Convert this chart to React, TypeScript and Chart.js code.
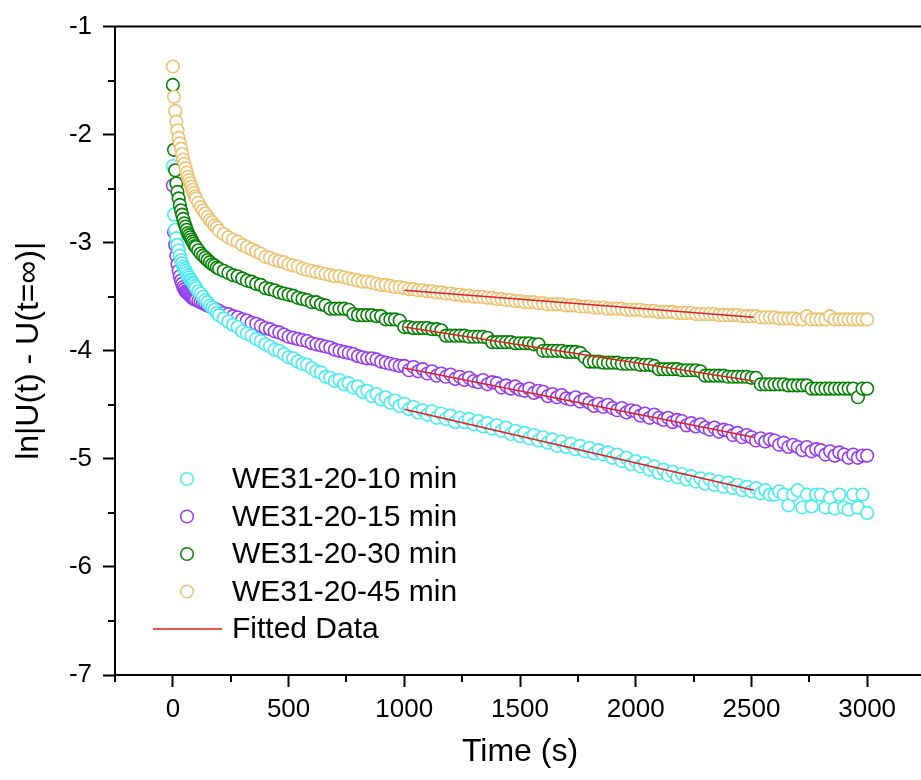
import React, { useEffect, useRef } from "react";
import { Chart, registerables } from "chart.js";

Chart.register(...registerables);

const FONT = "'Liberation Sans', Arial, sans-serif";

// time points (s)
const TIME = [
  0, 5, 10, 15, 20, 25, 30, 35, 40, 45,
  50, 55, 60, 65, 70, 75, 80, 85, 90, 95,
  100, 110, 120, 130, 140, 150, 160, 170, 180, 190,
  200, 220, 240, 260, 280, 300, 320, 340, 360, 380,
  400, 420, 440, 460, 480, 500, 520, 540, 560, 580,
  600, 620, 640, 660, 680, 700, 720, 740, 760, 780,
  800, 820, 840, 860, 880, 900, 920, 940, 960, 980,
  1000, 1020, 1040, 1060, 1080, 1100, 1120, 1140, 1160, 1180,
  1200, 1220, 1240, 1260, 1280, 1300, 1320, 1340, 1360, 1380,
  1400, 1420, 1440, 1460, 1480, 1500, 1520, 1540, 1560, 1580,
  1600, 1620, 1640, 1660, 1680, 1700, 1720, 1740, 1760, 1780,
  1800, 1820, 1840, 1860, 1880, 1900, 1920, 1940, 1960, 1980,
  2000, 2020, 2040, 2060, 2080, 2100, 2120, 2140, 2160, 2180,
  2200, 2220, 2240, 2260, 2280, 2300, 2320, 2340, 2360, 2380,
  2400, 2420, 2440, 2460, 2480, 2500, 2520, 2540, 2560, 2580,
  2600, 2620, 2640, 2660, 2680, 2700, 2720, 2740, 2760, 2780,
  2800, 2820, 2840, 2860, 2880, 2900, 2920, 2940, 2960, 2980,
  3000,
];

const WE_10 = [
  -2.29, -2.74, -2.88, -2.96, -3.02, -3.07, -3.12, -3.16, -3.19, -3.22,
  -3.24, -3.26, -3.28, -3.30, -3.32, -3.34, -3.35, -3.37, -3.38, -3.40,
  -3.42, -3.45, -3.47, -3.50, -3.53, -3.55, -3.58, -3.60, -3.62, -3.65,
  -3.67, -3.70, -3.73, -3.76, -3.78, -3.82, -3.84, -3.86, -3.89, -3.91,
  -3.94, -3.96, -3.99, -4.00, -4.03, -4.06, -4.07, -4.10, -4.12, -4.13,
  -4.16, -4.19, -4.20, -4.24, -4.25, -4.28, -4.27, -4.31, -4.30, -4.34,
  -4.33, -4.38, -4.37, -4.42, -4.40, -4.45, -4.43, -4.48, -4.46, -4.51,
  -4.49, -4.54, -4.52, -4.57, -4.55, -4.59, -4.56, -4.62, -4.58, -4.63,
  -4.60, -4.66, -4.62, -4.66, -4.63, -4.68, -4.65, -4.70, -4.67, -4.72,
  -4.69, -4.74, -4.71, -4.77, -4.74, -4.79, -4.76, -4.81, -4.78, -4.83,
  -4.80, -4.85, -4.82, -4.88, -4.84, -4.89, -4.86, -4.91, -4.88, -4.93,
  -4.90, -4.95, -4.92, -4.96, -4.94, -4.99, -4.96, -5.02, -4.99, -5.05,
  -5.02, -5.07, -5.04, -5.10, -5.07, -5.13, -5.10, -5.15, -5.12, -5.17,
  -5.14, -5.19, -5.16, -5.21, -5.18, -5.23, -5.19, -5.24, -5.21, -5.26,
  -5.22, -5.27, -5.24, -5.29, -5.26, -5.30, -5.27, -5.32, -5.29, -5.33,
  -5.33, -5.30, -5.33, -5.43, -5.33, -5.29, -5.45, -5.33, -5.44, -5.33,
  -5.33, -5.45, -5.36, -5.46, -5.33, -5.45, -5.47, -5.33, -5.45, -5.33,
  -5.50,
];

const WE_15 = [
  -2.47, -2.90, -3.02, -3.12, -3.20, -3.26, -3.31, -3.35, -3.38, -3.41,
  -3.43, -3.45, -3.46, -3.47, -3.48, -3.49, -3.50, -3.51, -3.52, -3.52,
  -3.53, -3.54, -3.55, -3.56, -3.57, -3.58, -3.59, -3.60, -3.61, -3.62,
  -3.63, -3.65, -3.66, -3.68, -3.69, -3.71, -3.72, -3.74, -3.75, -3.77,
  -3.79, -3.80, -3.82, -3.83, -3.85, -3.87, -3.88, -3.89, -3.90, -3.91,
  -3.93, -3.94, -3.95, -3.96, -3.97, -3.99, -4.00, -4.01, -4.02, -4.03,
  -4.05, -4.06, -4.07, -4.07, -4.08, -4.10, -4.11, -4.12, -4.13, -4.14,
  -4.14, -4.18, -4.15, -4.19, -4.17, -4.21, -4.19, -4.23, -4.21, -4.24,
  -4.22, -4.26, -4.24, -4.27, -4.25, -4.28, -4.29, -4.27, -4.31, -4.29,
  -4.30, -4.34, -4.32, -4.35, -4.33, -4.36, -4.37, -4.35, -4.39, -4.37,
  -4.38, -4.42, -4.40, -4.43, -4.41, -4.44, -4.45, -4.43, -4.47, -4.45,
  -4.48, -4.51, -4.49, -4.52, -4.50, -4.53, -4.55, -4.53, -4.57, -4.55,
  -4.56, -4.60, -4.58, -4.62, -4.59, -4.62, -4.64, -4.62, -4.66, -4.64,
  -4.65, -4.69, -4.67, -4.70, -4.68, -4.71, -4.73, -4.71, -4.75, -4.73,
  -4.74, -4.78, -4.76, -4.80, -4.78, -4.80, -4.83, -4.81, -4.84, -4.82,
  -4.83, -4.87, -4.85, -4.89, -4.87, -4.89, -4.92, -4.89, -4.93, -4.91,
  -4.92, -4.96, -4.93, -4.97, -4.94, -4.96, -4.99, -4.96, -4.99, -4.97,
  -4.97,
];

const WE_30 = [
  -1.54, -2.14, -2.33, -2.45, -2.53, -2.59, -2.65, -2.70, -2.74, -2.78,
  -2.82, -2.85, -2.88, -2.91, -2.93, -2.95, -2.97, -2.99, -3.01, -3.03,
  -3.04, -3.07, -3.10, -3.12, -3.14, -3.16, -3.18, -3.20, -3.21, -3.23,
  -3.24, -3.26, -3.28, -3.30, -3.31, -3.33, -3.35, -3.36, -3.38, -3.39,
  -3.42, -3.43, -3.44, -3.46, -3.47, -3.48, -3.49, -3.51, -3.52, -3.53,
  -3.55, -3.55, -3.57, -3.58, -3.61, -3.61, -3.61, -3.61, -3.62, -3.66,
  -3.67, -3.67, -3.67, -3.67, -3.68, -3.68, -3.71, -3.71, -3.71, -3.72,
  -3.78, -3.78, -3.79, -3.79, -3.79, -3.79, -3.80, -3.80, -3.81, -3.86,
  -3.86, -3.86, -3.86, -3.86, -3.87, -3.87, -3.87, -3.87, -3.88, -3.92,
  -3.92, -3.92, -3.92, -3.92, -3.93, -3.93, -3.93, -3.93, -3.94, -3.94,
  -4.00, -4.00, -4.00, -4.00, -4.00, -4.01, -4.01, -4.01, -4.02, -4.06,
  -4.10, -4.10, -4.10, -4.11, -4.11, -4.11, -4.11, -4.12, -4.12, -4.12,
  -4.12, -4.13, -4.13, -4.13, -4.14, -4.17, -4.17, -4.17, -4.17, -4.17,
  -4.18, -4.18, -4.18, -4.18, -4.19, -4.23, -4.23, -4.23, -4.23, -4.23,
  -4.24, -4.24, -4.24, -4.24, -4.24, -4.25, -4.25, -4.31, -4.31, -4.31,
  -4.31, -4.31, -4.31, -4.32, -4.32, -4.32, -4.32, -4.32, -4.35, -4.35,
  -4.35, -4.35, -4.35, -4.35, -4.35, -4.35, -4.35, -4.35, -4.43, -4.35,
  -4.35,
];

const WE_45 = [
  -1.37, -1.65, -1.78, -1.88, -1.96, -2.03, -2.08, -2.13, -2.18, -2.23,
  -2.27, -2.31, -2.35, -2.39, -2.42, -2.45, -2.48, -2.51, -2.54, -2.57,
  -2.59, -2.63, -2.67, -2.70, -2.73, -2.76, -2.79, -2.81, -2.84, -2.86,
  -2.89, -2.92, -2.95, -2.97, -2.99, -3.02, -3.04, -3.06, -3.08, -3.10,
  -3.13, -3.14, -3.16, -3.17, -3.18, -3.20, -3.21, -3.22, -3.24, -3.25,
  -3.26, -3.27, -3.28, -3.29, -3.30, -3.31, -3.31, -3.32, -3.33, -3.34,
  -3.35, -3.36, -3.36, -3.37, -3.38, -3.39, -3.39, -3.40, -3.41, -3.41,
  -3.42, -3.43, -3.43, -3.44, -3.44, -3.45, -3.45, -3.46, -3.46, -3.47,
  -3.47, -3.48, -3.48, -3.49, -3.49, -3.50, -3.50, -3.50, -3.51, -3.51,
  -3.52, -3.52, -3.53, -3.53, -3.54, -3.54, -3.55, -3.55, -3.55, -3.56,
  -3.56, -3.57, -3.57, -3.57, -3.57, -3.58, -3.58, -3.58, -3.59, -3.59,
  -3.59, -3.60, -3.60, -3.60, -3.61, -3.61, -3.61, -3.61, -3.62, -3.62,
  -3.62, -3.62, -3.63, -3.63, -3.63, -3.64, -3.64, -3.64, -3.64, -3.65,
  -3.65, -3.65, -3.65, -3.66, -3.66, -3.66, -3.66, -3.66, -3.67, -3.67,
  -3.67, -3.67, -3.67, -3.68, -3.68, -3.68, -3.68, -3.69, -3.69, -3.69,
  -3.69, -3.70, -3.70, -3.70, -3.70, -3.71, -3.71, -3.68, -3.71, -3.71,
  -3.71, -3.71, -3.68, -3.71, -3.71, -3.71, -3.71, -3.71, -3.71, -3.71,
  -3.71,
];

// linear fits
const FIT_TIME = [1000, 2510];
const FIT_10 = [-4.54, -5.29];
const FIT_15 = [-4.16, -4.80];
const FIT_30 = [-3.78, -4.28];
const FIT_45 = [-3.44, -3.69];

const SERIES_LABELS = ["WE31-20-10 min", "WE31-20-15 min", "WE31-20-30 min", "WE31-20-45 min"];
const FIT_LABEL = "Fitted Data";
const COLORS = ["rgb(70,236,240)", "rgb(150,60,240)", "rgb(5,128,5)", "rgb(236,194,112)"];
const FIT_COLOR = "rgb(225,30,30)";

const X_TICKS = [0, 500, 1000, 1500, 2000, 2500, 3000];
const X_MINOR = [-250, 250, 750, 1250, 1750, 2250, 2750, 3250];
const Y_TICKS = [-7, -6, -5, -4, -3, -2, -1];
const Y_MINOR = [-6.5, -5.5, -4.5, -3.5, -2.5, -1.5];

const decorPlugin = {
  id: "decor",
  afterDraw(chart: any) {
    const { ctx, chartArea, scales } = chart;
    const xs = scales.x;
    const ys = scales.y;
    ctx.save();
    ctx.strokeStyle = "#000";
    ctx.lineWidth = 2;
    ctx.beginPath();
    ctx.moveTo(chartArea.left - 1, chartArea.top);
    ctx.lineTo(chartArea.right, chartArea.top);
    ctx.lineTo(chartArea.right, chartArea.bottom);
    ctx.stroke();
    ctx.beginPath();
    X_MINOR.forEach((v) => {
      const px = Math.round(xs.getPixelForValue(v));
      ctx.moveTo(px, chartArea.bottom);
      ctx.lineTo(px, chartArea.bottom + 7);
    });
    Y_MINOR.forEach((v) => {
      const py = Math.round(ys.getPixelForValue(v));
      ctx.moveTo(chartArea.left, py);
      ctx.lineTo(chartArea.left - 7, py);
    });
    ctx.stroke();

    // legend
    const lx = 187;
    const tx = 232;
    const y0 = 479;
    const dy = 37.5;
    ctx.font = `30px ${FONT}`;
    ctx.textBaseline = "middle";
    ctx.textAlign = "left";
    SERIES_LABELS.forEach((lab, i) => {
      const y = y0 + i * dy;
      ctx.beginPath();
      ctx.arc(lx, y, 6.3, 0, Math.PI * 2);
      ctx.fillStyle = "#fff";
      ctx.fill();
      ctx.lineWidth = 1.5;
      ctx.strokeStyle = COLORS[i];
      ctx.stroke();
      ctx.fillStyle = "#000";
      ctx.fillText(lab, tx, y + 1);
    });
    const yf = y0 + 4 * dy;
    ctx.beginPath();
    ctx.moveTo(153, yf);
    ctx.lineTo(222, yf);
    ctx.strokeStyle = FIT_COLOR;
    ctx.lineWidth = 1.5;
    ctx.stroke();
    ctx.fillStyle = "#000";
    ctx.fillText(FIT_LABEL, tx, yf + 1);
    ctx.restore();
  },
};

export default function App() {
  const ref = useRef<HTMLCanvasElement>(null);

  useEffect(() => {
    const canvas = ref.current;
    if (!canvas) return;
    const pts = (ys: number[]) => TIME.map((t, i) => ({ x: t, y: ys[i] }));
    const fit = (ys: number[]) => FIT_TIME.map((t, i) => ({ x: t, y: ys[i] }));
    const seriesVals = [WE_10, WE_15, WE_30, WE_45];
    const orders = [3, 4, 2, 1];
    const scatterSets = seriesVals.map((vals, i) => ({
      type: "scatter" as const,
      label: SERIES_LABELS[i],
      data: pts(vals),
      showLine: false,
      pointRadius: 6.3,
      pointBorderWidth: 1.6,
      pointBorderColor: COLORS[i],
      pointBackgroundColor: "#ffffff",
      borderColor: COLORS[i],
      backgroundColor: "#ffffff",
      order: orders[i],
    }));
    const fitSets = [FIT_10, FIT_15, FIT_30, FIT_45].map((vals) => ({
      type: "line" as const,
      label: FIT_LABEL,
      data: fit(vals),
      showLine: true,
      borderColor: FIT_COLOR,
      borderWidth: 1.5,
      pointRadius: 0,
      fill: false,
      order: 0,
    }));

    const tickFont = { family: FONT, size: 26 };
    const chart = new Chart(canvas, {
      type: "scatter",
      data: { datasets: [...scatterSets, ...fitSets] as any },
      options: {
        responsive: false,
        animation: false,
        devicePixelRatio: 1,
        layout: { padding: { top: 23, right: 10, left: 0, bottom: 0 } },
        plugins: { legend: { display: false }, tooltip: { enabled: false } },
        scales: {
          x: {
            type: "linear",
            min: -250,
            max: 3250,
            afterFit: (s: any) => {
              s.height = 105;
            },
            afterBuildTicks: (s: any) => {
              s.ticks = X_TICKS.map((v) => ({ value: v }));
            },
            ticks: {
              font: tickFont,
              color: "#000",
              padding: 7,
              maxRotation: 0,
              autoSkip: false,
              callback: (v: any) => String(v),
            },
            grid: {
              display: true,
              drawOnChartArea: false,
              drawTicks: true,
              tickLength: 12,
              tickWidth: 2,
              tickColor: "#000",
            },
            border: { display: true, color: "#000", width: 2 },
            title: {
              display: true,
              text: "Time (s)",
              color: "#000",
              font: { family: FONT, size: 32 },
              padding: { top: 0, bottom: 9 },
            },
          },
          y: {
            type: "linear",
            min: -7,
            max: -1,
            afterFit: (s: any) => {
              s.width = 115;
            },
            afterBuildTicks: (s: any) => {
              s.ticks = Y_TICKS.map((v) => ({ value: v }));
            },
            ticks: {
              font: tickFont,
              color: "#000",
              padding: 11,
              autoSkip: false,
              callback: (v: any) => String(v),
            },
            grid: {
              display: true,
              drawOnChartArea: false,
              drawTicks: true,
              tickLength: 12,
              tickWidth: 2,
              tickColor: "#000",
            },
            border: { display: true, color: "#000", width: 2 },
            title: {
              display: true,
              text: "ln|U(t) - U(t=\u221E)|",
              color: "#000",
              font: { family: FONT, size: 32 },
              padding: { top: 10, bottom: 0 },
            },
          },
        },
      } as any,
      plugins: [decorPlugin],
    });
    return () => chart.destroy();
  }, []);

  return (
    <div
      style={{
        position: "fixed",
        left: 0,
        top: 0,
        width: 921,
        height: 780,
        overflow: "hidden",
        background: "#fff",
      }}
    >
      <canvas ref={ref} width={935} height={780} style={{ display: "block", width: 935, height: 780 }} />
    </div>
  );
}
